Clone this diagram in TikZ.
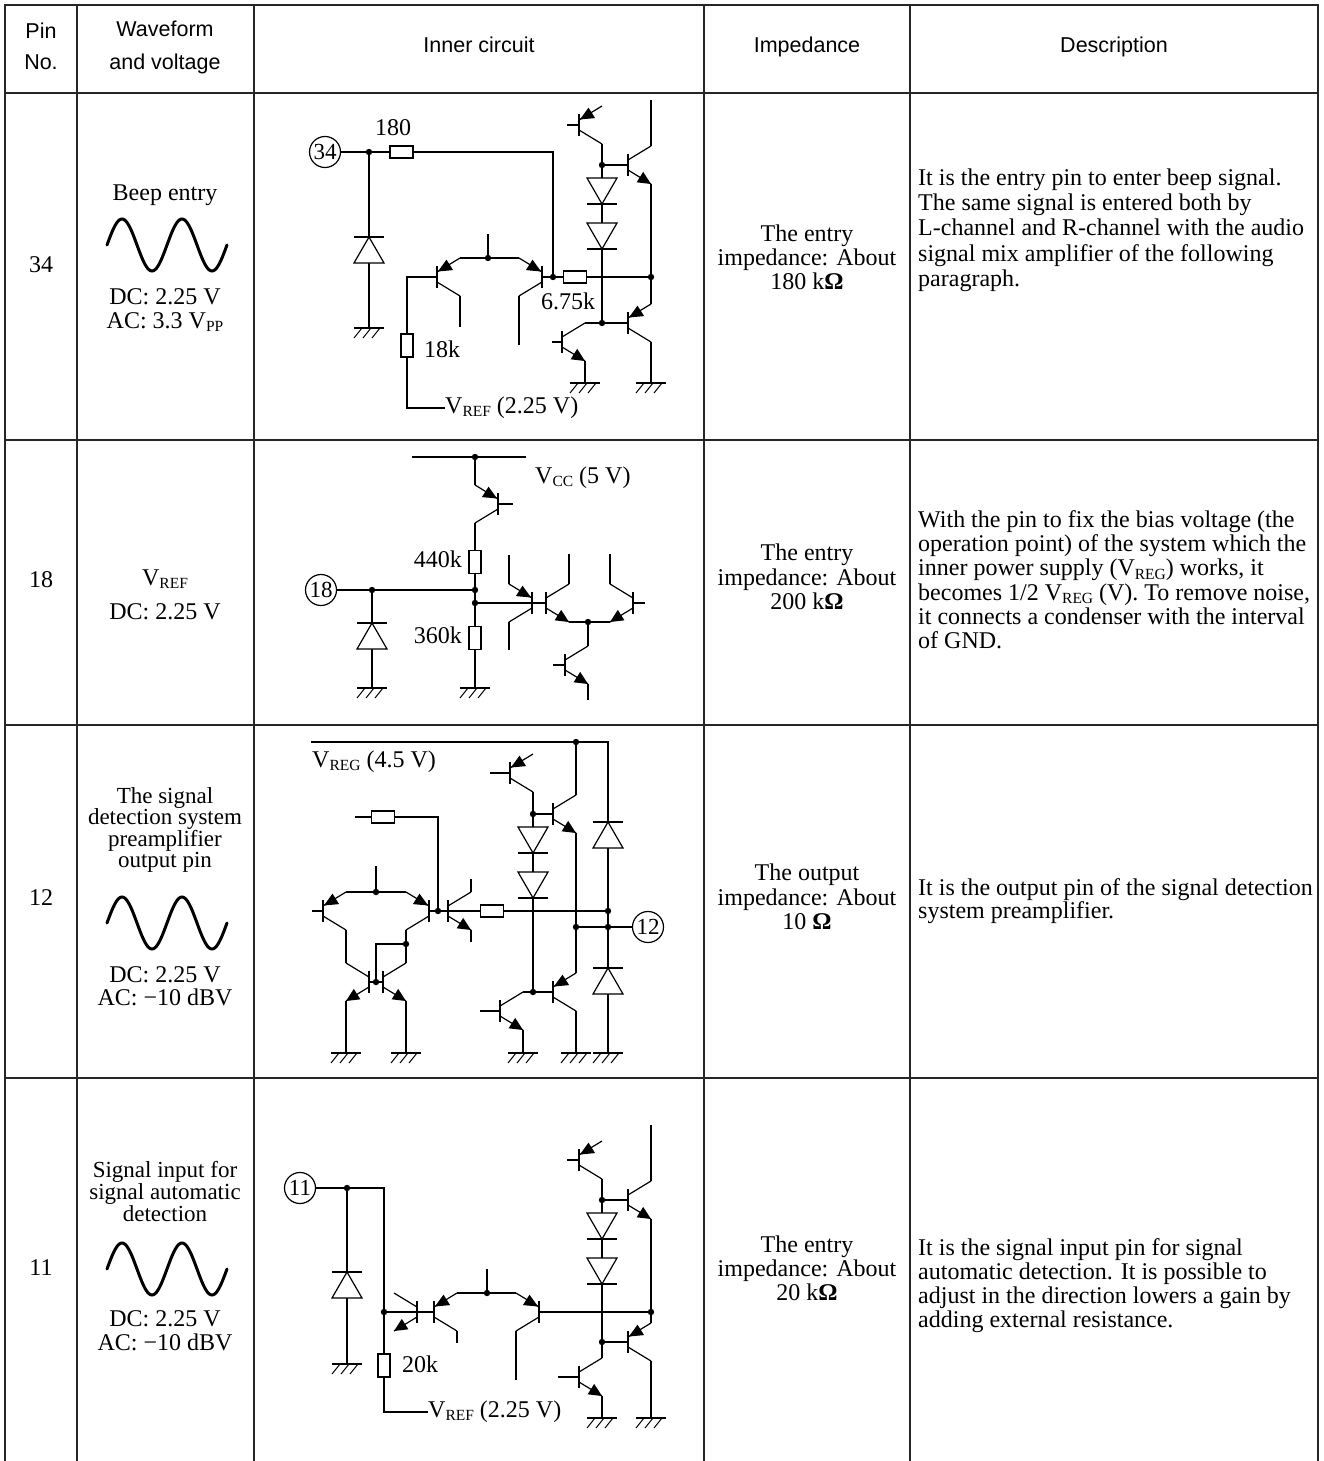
\documentclass[tikz,border=0pt]{standalone}
\usepackage{fontspec}
\setmainfont{Liberation Serif}
\newfontfamily\hdr{Liberation Sans}

\newcommand{\lo}[1]{\raisebox{-0.3ex}{\fontsize{15.5}{15.5}\selectfont #1}}

\tikzset{
 w/.style={line width=1.2pt},
 thickbar/.style={line width=2.8pt},
 tbl/.style={line width=1.3pt, draw=black!85},
 tx/.style={inner sep=0pt, text height=16pt, text depth=5pt, font=\fontsize{24}{25}\selectfont},
 txs/.style={inner sep=0pt, text height=14pt, text depth=4pt, font=\fontsize{23}{24}\selectfont},
 ds/.style={tx, anchor=west},
 hd/.style={inner sep=0pt, text height=15pt, text depth=4pt, font=\hdr\fontsize{21.5}{24}\selectfont},
 pin/.style={draw, circle, line width=1.2pt, minimum size=31pt, inner sep=0pt, font=\fontsize{23}{23}\selectfont},
 sine/.style={line width=3pt, line cap=round},
}

% transistor: name, x, y (bar centre), xs (+1 leads right), ys (+1 emitter down), n/p
\newcommand{\tran}[6]{%
 \begin{scope}[shift={(#2,#3)}, xscale=#4, yscale=#5]
  \draw[thickbar] (0,-11) -- (0,11);
  \coordinate (#1) at (0,0);
  \draw[w] (0,-5) -- (23,-19) coordinate (#1-C);
  \draw[w] (0,5) -- (23,19);
  \ifx n#6 \fill (23,19) -- (8.6,17.3) -- (15.2,6.9) -- cycle;
  \else \fill (0.9,5.5) -- (9.5,17.3) -- (16.1,6.9) -- cycle; \fi
  \coordinate (#1-E) at (23,19);
 \end{scope}}
% diode, cathode bar on top at y
\newcommand{\dup}[2]{%
 \filldraw[w, fill=white] (#1,#2) -- (#1-15,#2+26) -- (#1+15,#2+26) -- cycle;
 \draw[thickbar] (#1-15,#2) -- (#1+15,#2);}
% diode, triangle top at y, cathode bar below
\newcommand{\ddown}[2]{%
 \filldraw[w, fill=white] (#1-15,#2) -- (#1+15,#2) -- (#1,#2+26) -- cycle;
 \draw[thickbar] (#1-15,#2+26) -- (#1+15,#2+26);}
\newcommand{\gnd}[2]{%
 \draw[line width=2.4pt] (#1-15,#2) -- (#1+15,#2);
 \draw[line width=1pt] (#1-7,#2) -- (#1-15,#2+10) (#1+2,#2) -- (#1-6,#2+10) (#1+11,#2) -- (#1+3,#2+10);}
\newcommand{\resh}[2]{\filldraw[w, fill=white] (#1-11.5,#2-6) rectangle (#1+11.5,#2+6);}
\newcommand{\resv}[2]{\filldraw[w, fill=white] (#1-6,#2-11.5) rectangle (#1+6,#2+11.5);}
\newcommand{\jd}[1]{\fill #1 circle (3.2pt);}

\begin{document}
\begin{tikzpicture}[x=1pt,y=-1pt]
\useasboundingbox (0,0) rectangle (1323,1461);
\fill[white] (0,0) rectangle (1323,1461);
% ---------- table ----------
\draw[tbl, line width=2.6pt] (4,5) -- (1319,5);
\draw[tbl] (5,5) -- (5,1461);
\draw[tbl, line width=2pt] (1318,5) -- (1318,1461);
\foreach \x in {77,254,704,910} \draw[tbl] (\x,5) -- (\x,1461);
\foreach \y in {93,440,725,1078} \draw[tbl] (5,\y) -- (1318,\y);
% headers
\node[hd] (h1) at (41,33) {Pin};
\node[hd] (h2) at (41,64) {No.};
\node[hd] (h3) at (165,31) {Waveform};
\node[hd] (h4) at (165,64) {and voltage};
\node[hd] (h5) at (479,47) {Inner circuit};
\node[hd] (h6) at (807,47) {Impedance};
\node[hd] (h7) at (1114,47) {Description};
% pin numbers
\node[tx] (n34) at (41,267) {34};
\node[tx] (n18) at (41,582) {18};
\node[tx] (n12) at (41,900) {12};
\node[tx] (n11) at (41,1270) {11};
% ---------- waveform column ----------
\node[tx] (wa1) at (165,195) {Beep entry};
\draw[sine] plot[domain=107:227, samples=81, smooth] (\x, {245-26*sin(6*(\x-107))});
\node[tx] (wa2) at (165,299) {DC: 2.25 V};
\node[tx] (wa3) at (165,323) {AC: 3.3 V\lo{PP}};
\node[tx] (wb1) at (165,580) {V\lo{REF}};
\node[tx] (wb2) at (165,614) {DC: 2.25 V};
\foreach \t [count=\i from 0] in {The signal,detection system,preamplifier,output pin}
  \node[txs] (wc\i) at (165,798+21.5*\i) {\t};
\draw[sine] plot[domain=107:227, samples=81, smooth] (\x, {923-26*sin(6*(\x-107))});
\node[tx] (wc5) at (165,977) {DC: 2.25 V};
\node[tx] (wc6) at (165,1000) {AC: −10 dBV};
\foreach \t [count=\i from 0] in {Signal input for,signal automatic,detection}
  \node[txs] (wd\i) at (165,1172+22*\i) {\t};
\draw[sine] plot[domain=107:227, samples=81, smooth] (\x, {1269-26*sin(6*(\x-107))});
\node[tx] (wd5) at (165,1321) {DC: 2.25 V};
\node[tx] (wd6) at (165,1345) {AC: −10 dBV};
% ---------- impedance column ----------
\node[tx] (ia1) at (807,236) {The entry};
\node[tx] (ia2) at (807,260) {impedance: About};
\node[tx] (ia3) at (807,284) {180 k\textbf{Ω}};
\node[tx] (ib1) at (807,555) {The entry};
\node[tx] (ib2) at (807,580) {impedance: About};
\node[tx] (ib3) at (807,604) {200 k\textbf{Ω}};
\node[tx] (ic1) at (807,875) {The output};
\node[tx] (ic2) at (807,900) {impedance: About};
\node[tx] (ic3) at (807,924) {10 \textbf{Ω}};
\node[tx] (id1) at (807,1247) {The entry};
\node[tx] (id2) at (807,1271) {impedance: About};
\node[tx] (id3) at (807,1295) {20 k\textbf{Ω}};
% ---------- description column ----------
\foreach \t [count=\i from 0] in {It is the entry pin to enter beep signal.,The same signal is entered both by,L-channel and R-channel with the audio,signal mix amplifier of the following,paragraph.}
  \node[ds] (da\i) at (918,180+25.2*\i) {\t};
\foreach \t [count=\i from 0] in {With the pin to fix the bias voltage (the,operation point) of the system which the,{inner power supply (V\lo{REG}) works, it},{becomes 1/2 V\lo{REG} (V). To remove noise,},it connects a condenser with the interval,of GND.}
  \node[ds] (db\i) at (918,522+24.2*\i) {\t};
\node[ds] (dc0) at (918,890) {It is the output pin of the signal detection};
\node[ds] (dc1) at (918,913) {system preamplifier.};
\foreach \t [count=\i from 0] in {It is the signal input pin for signal,automatic detection. It is possible to,adjust in the direction lowers a gain by,adding external resistance.}
  \node[ds] (dd\i) at (918,1250+24*\i) {\t};

% =========== circuit pin 34 ===========
\node[pin] (c34) at (325,152) {34};
\tran{a1}{437}{277}{1}{-1}{p}
\tran{a2}{542}{277}{-1}{-1}{p}
\tran{a3}{579}{125}{1}{-1}{p}
\tran{a4}{628}{165}{1}{1}{n}
\tran{a5}{562}{342}{1}{1}{n}
\tran{a6}{628}{323}{1}{-1}{p}
\draw[w] (c34) -- (553,152) -- (553,277);
\draw[w] (369,152) -- (369,328);
\draw[w] (a1-E) -- (a2-E);
\draw[w] (488,234) -- (488,258);
\draw[w] (a1-C) -- (460,327);
\draw[w] (a2-C) -- (519,345);
\draw[w] (a1) -- (407,277) -- (407,408) -- (445,408);
\draw[w] (a2) -- (651,277);
\draw[w] (567,125) -- (a3);
\draw[w] (a3-C) -- (602,323) -- (a5-C);
\draw[w] (602,165) -- (a4);
\draw[w] (602,323) -- (a6);
\draw[w] (a4-C) -- (651,100);
\draw[w] (a4-E) -- (a6-E);
\draw[w] (a6-C) -- (651,383);
\draw[w] (a5-E) -- (585,383);
\draw[w] (552,342) -- (a5);
\resh{401.5}{152}
\dup{369}{237}
\gnd{369}{328}
\resv{407}{345.5}
\resh{575}{277}
\ddown{602}{178}
\ddown{602}{223}
\gnd{585}{383}
\gnd{651}{383}
\jd{(369,152)} \jd{(488,258)} \jd{(553,277)} \jd{(651,277)} \jd{(602,165)} \jd{(602,323)}
\node[tx] (l180) at (393,130) {180};
\node[tx, anchor=west] (l18k) at (424,352) {18k};
\node[tx] (l675) at (568,304) {6.75k};
\node[tx, anchor=west] (lvr1) at (445,408) {V\lo{REF} (2.25 V)};

% =========== circuit pin 18 ===========
\node[pin] (c18) at (321,590) {18};
\tran{b1}{498}{504}{-1}{-1}{p}
\tran{b2}{532}{603}{-1}{-1}{p}
\tran{b3}{546}{603}{1}{1}{n}
\tran{b4}{633}{603}{-1}{1}{n}
\tran{b5}{565}{665}{1}{1}{n}
\draw[w] (412,457) -- (526,457);
\draw[w] (475,457) -- (b1-E);
\draw[w] (b1) -- (513,504);
\draw[w] (b1-C) -- (475,688);
\draw[w] (c18) -- (475,590);
\draw[w] (372,590) -- (372,688);
\draw[w] (475,603) -- (b3);
\draw[w] (b2-E) -- (509,555);
\draw[w] (b2-C) -- (509,650);
\draw[w] (b3-C) -- (569,554);
\draw[w] (b3-E) -- (b4-E);
\draw[w] (b4) -- (645,603);
\draw[w] (b4-C) -- (610,554);
\draw[w] (588,622) -- (b5-C);
\draw[w] (b5-E) -- (588,700);
\draw[w] (553,665) -- (b5);
\resv{475}{562}
\resv{475}{638}
\dup{372}{623}
\gnd{372}{688}
\gnd{475}{688}
\jd{(475,457)} \jd{(372,590)} \jd{(475,590)} \jd{(475,603)} \jd{(588,622)}
\node[tx, anchor=east] (l440) at (462,562) {440k};
\node[tx, anchor=east] (l360) at (462,638) {360k};
\node[tx, anchor=west] (lvcc) at (535,478) {V\lo{CC} (5 V)};

% =========== circuit pin 12 ===========
\node[pin] (c12) at (648,927) {12};
\tran{c1}{323}{911}{1}{-1}{p}
\tran{c2}{429}{911}{-1}{-1}{p}
\tran{c3}{448}{911}{1}{1}{n}
\tran{c4}{369}{982}{-1}{1}{n}
\tran{c5}{383}{982}{1}{1}{n}
\tran{c6}{510}{773}{1}{-1}{p}
\tran{c7}{553}{814}{1}{1}{n}
\tran{c8}{553}{992}{1}{-1}{p}
\tran{c9}{500}{1011}{1}{1}{n}
\draw[w] (311,742) -- (608,742) -- (608,1053);
\draw[w] (355,817) -- (438,817) -- (438,911);
\draw[w] (312,911) -- (c1);
\draw[w] (c1-E) -- (c2-E);
\draw[w] (376,866) -- (376,892);
\draw[w] (c2) -- (608,911);
\draw[w] (c3-C) -- (471,879);
\draw[w] (c3-E) -- (471,942);
\draw[w] (c1-C) -- (c4-C);
\draw[w] (c2-C) -- (c5-C);
\draw[w] (c4) -- (c5);
\draw[w] (376,982) -- (376,944) -- (406,944);
\draw[w] (c4-E) -- (346,1053);
\draw[w] (c5-E) -- (406,1053);
\draw[w] (490,773) -- (c6);
\draw[w] (c6-C) -- (533,992) -- (c8);
\draw[w] (533,814) -- (c7);
\draw[w] (c7-C) -- (576,742);
\draw[w] (c7-E) -- (c8-E);
\draw[w] (c8-C) -- (576,1053);
\draw[w] (c9-C) -- (533,992);
\draw[w] (c9-E) -- (523,1053);
\draw[w] (480,1011) -- (c9);
\draw[w] (576,927) -- (c12);
\resh{383}{817}
\resh{492}{911}
\ddown{533}{827}
\ddown{533}{872}
\dup{608}{822}
\dup{608}{968}
\gnd{346}{1053}
\gnd{406}{1053}
\gnd{523}{1053}
\gnd{576}{1053}
\gnd{608}{1053}
\jd{(376,892)} \jd{(438,911)} \jd{(376,982)} \jd{(406,944)} \jd{(608,911)}
\jd{(576,742)} \jd{(533,814)} \jd{(533,992)} \jd{(576,927)} \jd{(608,927)}
\node[tx, anchor=west] (lvreg) at (312,762) {V\lo{REG} (4.5 V)};

% =========== circuit pin 11 ===========
\node[pin] (c11) at (300,1188) {11};
\tran{d1}{417}{1312}{-1}{1}{n}
\tran{d2}{434}{1312}{1}{-1}{p}
\tran{d3}{539}{1312}{-1}{-1}{p}
\tran{d4}{579}{1160}{1}{-1}{p}
\tran{d5}{628}{1200}{1}{1}{n}
\tran{d6}{628}{1342}{1}{-1}{p}
\tran{d7}{579}{1377}{1}{1}{n}
\draw[w] (c11) -- (384,1188) -- (384,1412) -- (428,1412);
\draw[w] (347,1188) -- (347,1364);
\draw[w] (384,1312) -- (d2);
\draw[w] (d2-E) -- (d3-E);
\draw[w] (487,1269) -- (487,1293);
\draw[w] (d2-C) -- (457,1343);
\draw[w] (d3-C) -- (516,1380);
\draw[w] (d3) -- (651,1312);
\draw[w] (567,1160) -- (d4);
\draw[w] (d4-C) -- (d7-C);
\draw[w] (602,1200) -- (d5);
\draw[w] (d5-C) -- (651,1125);
\draw[w] (d5-E) -- (d6-E);
\draw[w] (602,1342) -- (d6);
\draw[w] (d6-C) -- (651,1418);
\draw[w] (d7-E) -- (602,1418);
\draw[w] (558,1377) -- (d7);
\dup{347}{1272}
\gnd{347}{1364}
\resv{384}{1365.5}
\ddown{602}{1213}
\ddown{602}{1258}
\gnd{651}{1418}
\gnd{602}{1418}
\jd{(347,1188)} \jd{(384,1312)} \jd{(487,1293)} \jd{(602,1200)} \jd{(602,1342)} \jd{(651,1312)}
\node[tx, anchor=west] (l20k) at (402,1367) {20k};
\node[tx, anchor=west] (lvr2) at (428,1412) {V\lo{REF} (2.25 V)};
\end{tikzpicture}
\end{document}
